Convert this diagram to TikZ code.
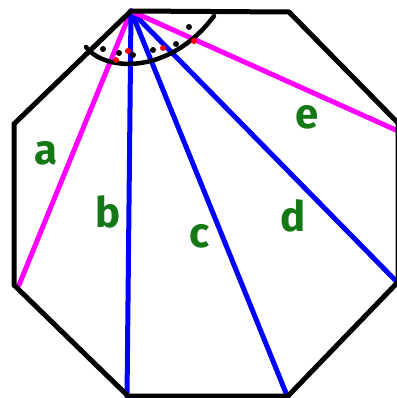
\documentclass[tikz,border=0pt]{standalone}
\usepackage{fontspec}
\setsansfont{Fira Sans}
\usepackage{tikz}

\definecolor{pinkline}{RGB}{255,0,255}
\definecolor{blueline}{RGB}{0,0,255}
\definecolor{labelgreen}{RGB}{20,120,20}

\tikzset{
    edge/.style={line width=5pt, line join=round, line cap=round},
    lbl/.style={text=labelgreen, font=\sffamily\bfseries\fontsize{42}{42}\selectfont}
}

\begin{document}
\begin{tikzpicture}[x=1pt, y=-1pt]
    \useasboundingbox (0, 0) rectangle (396, 398);

    % octagon corners
    \coordinate (top) at (131, 11);
    \coordinate (tr) at (289, 12);
    \coordinate (rt) at (398, 123);
    \coordinate (rb) at (398, 282);
    \coordinate (br) at (288, 396);
    \coordinate (bl) at (128, 396);
    \coordinate (lb) at (14, 285);
    \coordinate (lt) at (14, 124);

    % diagonals
    \draw[edge, pinkline] (top) -- (19, 285) coordinate (ea);
    \draw[edge, blueline] (top) -- (127, 398) coordinate (eb);
    \draw[edge, blueline] (top) -- (288, 398) coordinate (ec);
    \draw[edge, blueline] (top) -- (398, 283) coordinate (ed);
    \draw[edge, pinkline] (top) -- (398, 131) coordinate (ee);

    % outline
    \draw[edge, black] (top) -- (tr) -- (rt) -- (rb) -- (br) -- (bl) -- (lb) -- (lt) -- cycle;

    % angle arc with dots
    \draw[line width=4.5pt, line cap=round] (86, 47) .. controls (105, 72) and (170, 75) .. (214, 16);
    \foreach \px/\py in {103/49, 119/53, 133/55, 153/50, 176/44, 189/27}
        \fill (\px, \py) circle (3pt);
    \foreach \px/\py in {128/51, 163/48, 194/41, 116/60}
        \fill[red] (\px, \py) circle (3pt);

    % labels
    \node[lbl] (la) at (46, 153) {a};
    \node[lbl] (lb2) at (108, 212) {b};
    \node[lbl] (lc) at (200, 236) {c};
    \node[lbl] (ld) at (293, 216) {d};
    \node[lbl] (le) at (307, 117) {e};
\end{tikzpicture}
\end{document}
